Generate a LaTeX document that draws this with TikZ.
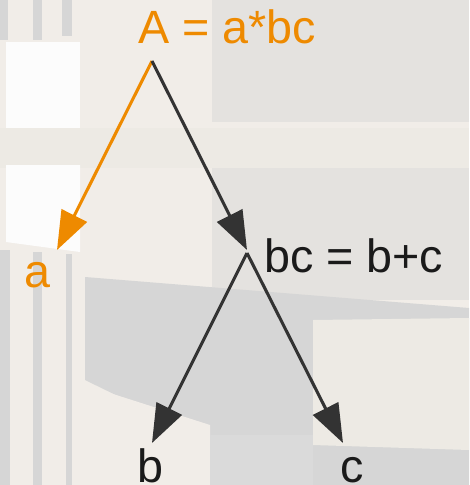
\documentclass[tikz,border=0pt]{standalone}
\usepackage{fontspec}
\setmainfont{Liberation Sans}
\usetikzlibrary{arrows.meta}
\definecolor{treeorange}{RGB}{238,138,0}
\definecolor{treedark}{RGB}{51,51,51}
\definecolor{treetextdark}{RGB}{26,26,26}
\definecolor{wallbase}{RGB}{241,237,232}
\definecolor{wallgray}{RGB}{228,226,223}
\definecolor{wallband}{RGB}{237,234,228}
\definecolor{wallwhite}{RGB}{252,252,252}
\definecolor{wallstripe}{RGB}{214,214,214}
\definecolor{walldark}{RGB}{214,214,214}
\begin{document}
\begin{tikzpicture}[
  x=0.75pt, y=-0.75pt,
  treetext/.style={font=\fontsize{35}{42}\selectfont, inner sep=0pt, text depth=0pt},
  edge/.style={line width=2.3pt, treedark, -{Triangle[length=29pt,width=21pt]}},
  orangeedge/.style={edge, treeorange}
]
\useasboundingbox (0,0) rectangle (469,485);
% blurred backdrop
\fill[wallbase] (0,0) rectangle (469,485);
\fill[wallgray] (212,0) rectangle (469,122);
\fill[wallgray] (212,168) rectangle (469,300);
\fill[wallband] (0,128) rectangle (469,168);
\fill[wallstripe] (0,0) rectangle (8,40);
\fill[wallstripe] (33,0) rectangle (42,40);
\fill[wallstripe] (62,0) rectangle (72,36);
\fill[wallwhite] (6,42) rectangle (80,128);
\fill[wallwhite] (6,165) -- (80,165) -- (80,252) -- (6,242) -- cycle;
\fill[wallstripe] (0,250) rectangle (10,485);
\fill[wallstripe] (33,252) rectangle (42,485);
\fill[wallstripe] (66,254) rectangle (72,485);
\fill[walldark] (85,277) -- (469,308) -- (469,485) -- (300,485) -- (85,380) -- cycle;
\fill[wallbase] (85,385) -- (210,425) -- (210,485) -- (85,485) -- cycle;
\fill[wallband] (313,320) -- (469,318) -- (469,450) -- (313,445) -- cycle;
\fill[walldark!90!white] (210,435) rectangle (313,485);
% tree
\coordinate (Atop) at (152,61);
\coordinate (atip) at (57,250);
\coordinate (bctip) at (247,250);
\coordinate (bctop) at (247,253);
\coordinate (btip) at (152,443);
\coordinate (ctip) at (343,443);
\node[treetext, text=treeorange, anchor=base] (Alabel) at (227,44) {A = a*bc};
\node[treetext, text=treeorange, anchor=base] (alabel) at (37,287) {a};
\node[treetext, text=treetextdark, anchor=base west] (bclabel) at (264,272) {bc = b+c};
\node[treetext, text=treetextdark, anchor=base] (blabel) at (150,482) {b};
\node[treetext, text=treetextdark, anchor=base] (clabel) at (352,482) {c};
\draw[orangeedge] (Atop) -- (atip);
\draw[edge] (Atop) -- (bctip);
\draw[edge] (bctop) -- (btip);
\draw[edge] (bctop) -- (ctip);
\end{tikzpicture}
\end{document}
